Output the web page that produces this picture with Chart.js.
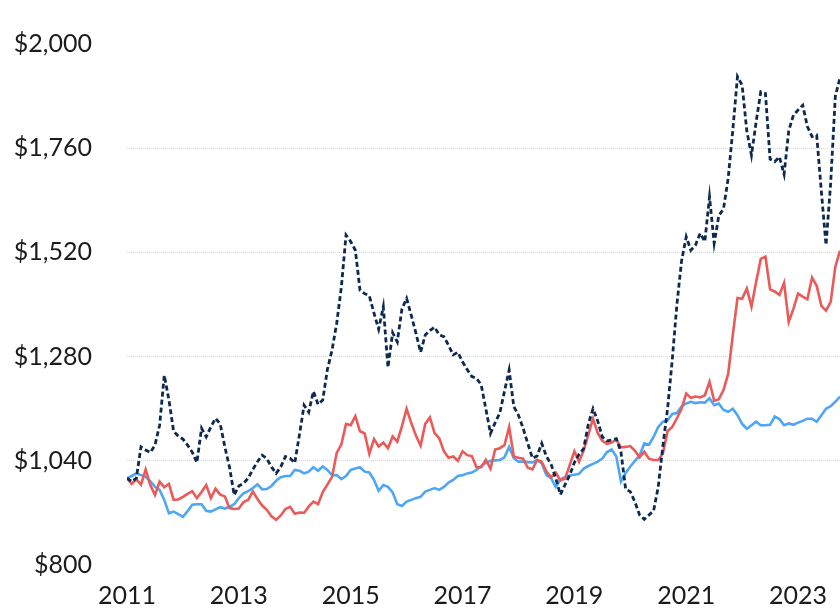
<!DOCTYPE html>
<html>
<head>
<meta charset="utf-8">
<script src="https://cdn.jsdelivr.net/npm/chart.js@4.4.1/dist/chart.umd.min.js"></script>
<style>
  html, body { margin: 0; padding: 0; background: #fff; overflow: hidden; }
  #wrap { width: 840px; height: 609px; }
  canvas { display: block; }
</style>
</head>
<body>
<div id="wrap"><canvas id="growthChart" width="840" height="609"></canvas></div>
<script>
// Monthly values, Jan 2011 .. Oct 2023 (growth of $1,000)
const startYear = 2011;
const yearTicks = [2011, 2013, 2015, 2017, 2019, 2021, 2023];
const valueTicks = [800, 1040, 1280, 1520, 1760, 2000];

const navySeries = [
    1000, 992, 1000, 1072, 1065, 1059, 1076, 1122, 1237, 1180, 1108, 1097,
    1090, 1076, 1060, 1036, 1115, 1095, 1118, 1138, 1125, 1072, 1025, 961,
    982, 988, 1000, 1020, 1038, 1053, 1045, 1026, 1011, 1026, 1050, 1046,
    1035, 1100, 1168, 1152, 1200, 1170, 1180, 1250, 1295, 1357, 1440, 1560,
    1545, 1525, 1433, 1425, 1420, 1380, 1343, 1395, 1255, 1335, 1314, 1390,
    1414, 1375, 1334, 1290, 1330, 1340, 1348, 1330, 1326, 1306, 1284, 1290,
    1268, 1250, 1234, 1230, 1215, 1160, 1103, 1128, 1150, 1200, 1249, 1165,
    1145, 1115, 1080, 1046, 1051, 1080, 1050, 1032, 1000, 962, 985, 1007,
    1036, 1055, 1068, 1125, 1160, 1132, 1095, 1086, 1088, 1091, 1060, 975,
    969, 945, 915, 905, 915, 925, 980, 1075, 1160, 1272, 1400, 1500,
    1556, 1525, 1537, 1564, 1545, 1648, 1541, 1605, 1620, 1690, 1802, 1925,
    1905, 1800, 1744, 1820, 1890, 1886, 1735, 1729, 1740, 1700, 1800, 1836,
    1848, 1859, 1810, 1787, 1790, 1660, 1537, 1680, 1880, 1922
];

const redSeries = [
    1000, 987, 997, 985, 1020, 984, 961, 992, 979, 987, 950, 951,
    957, 964, 970, 954, 968, 984, 954, 976, 962, 958, 931, 929,
    930, 945, 950, 969, 952, 937, 927, 912, 904, 914, 929, 934,
    918, 921, 920, 935, 946, 940, 968, 985, 1003, 1058, 1078, 1125,
    1122, 1143, 1108, 1103, 1056, 1090, 1073, 1082, 1069, 1096, 1084, 1120,
    1160, 1127, 1098, 1075, 1125, 1140, 1104, 1092, 1062, 1047, 1050, 1040,
    1062, 1053, 1051, 1025, 1025, 1042, 1022, 1066, 1069, 1076, 1118, 1050,
    1047, 1045, 1024, 1020, 1042, 1038, 1015, 1002, 1013, 995, 999, 1030,
    1062, 1038, 1064, 1100, 1137, 1104, 1086, 1079, 1082, 1089, 1071, 1072,
    1074, 1063, 1048, 1061, 1045, 1042, 1042, 1057, 1108, 1118, 1138, 1160,
    1195, 1185, 1188, 1186, 1191, 1222, 1178, 1182, 1203, 1240, 1330, 1415,
    1413, 1437, 1395, 1452, 1505, 1510, 1435, 1430, 1422, 1450, 1360, 1390,
    1425, 1418, 1412, 1462, 1443, 1397, 1386, 1406, 1487, 1524
];

const blueSeries = [
    1000, 1005, 1011, 1007, 1003, 993, 980, 973, 950, 919, 923, 917,
    911, 924, 939, 940, 940, 925, 923, 928, 933, 930, 934, 940,
    954, 965, 970, 977, 986, 974, 975, 982, 994, 1002, 1005, 1005,
    1019, 1017, 1011, 1015, 1025, 1017, 1027, 1019, 1007, 1007, 998, 1005,
    1019, 1022, 1025, 1015, 1013, 996, 971, 984, 980, 967, 940, 936,
    946, 950, 954, 957, 969, 973, 977, 973, 980, 990, 996, 1005,
    1007, 1011, 1013, 1019, 1028, 1035, 1040, 1041, 1042, 1048, 1072, 1046,
    1038, 1038, 1037, 1036, 1042, 1034, 1007, 1000, 980, 997, 1003, 1006,
    1008, 1010, 1022, 1028, 1033, 1038, 1045, 1060, 1066, 1050, 992, 1012,
    1027, 1040, 1052, 1080, 1077, 1095, 1118, 1130, 1133, 1148, 1150, 1165,
    1172, 1176, 1173, 1175, 1174, 1184, 1168, 1172, 1157, 1153, 1160, 1145,
    1125, 1114, 1122, 1130, 1122, 1122, 1123, 1142, 1136, 1122, 1126, 1123,
    1128, 1132, 1137, 1137, 1130, 1145, 1160, 1166, 1176, 1188
];

function toPoints(values) {
    return values.map((v, i) => ({ x: i, y: v }));
}

const tickFont = { family: "Lato, 'Open Sans', sans-serif", size: 25 };
const lastIndex = navySeries.length - 1;

new Chart(document.getElementById("growthChart").getContext("2d"), {
    type: "line",
    data: {
        datasets: [
            {
                label: "Portfolio A",
                data: toPoints(navySeries),
                borderColor: "#0c2a50",
                borderWidth: 2.8,
                borderDash: [5, 3],
                pointRadius: 0,
                pointHoverRadius: 0,
                tension: 0,
                fill: false
            },
            {
                label: "Portfolio B",
                data: toPoints(redSeries),
                borderColor: "#e95a58",
                borderWidth: 2.6,
                pointRadius: 0,
                pointHoverRadius: 0,
                tension: 0,
                fill: false
            },
            {
                label: "Portfolio C",
                data: toPoints(blueSeries),
                borderColor: "#4ea6f5",
                borderWidth: 2.6,
                pointRadius: 0,
                pointHoverRadius: 0,
                tension: 0,
                fill: false
            }
        ]
    },
    options: {
        responsive: false,
        animation: false,
        layout: { autoPadding: false, padding: { top: 44, right: 0, bottom: 0, left: 0 } },
        plugins: {
            legend: { display: false },
            tooltip: { enabled: false }
        },
        scales: {
            x: {
                type: "linear",
                min: 0,
                max: lastIndex,
                afterBuildTicks: (scale) => {
                    scale.ticks = yearTicks.map(y => ({ value: (y - startYear) * 12 }));
                },
                afterFit: (scale) => {
                    // fixed axis box so the plot area lines up with the original
                    scale.height = 44;
                    scale.paddingLeft = 0;
                    scale.paddingRight = 0;
                },
                ticks: {
                    color: "#1b1b1b",
                    font: tickFont,
                    padding: 16,
                    maxRotation: 0,
                    autoSkip: false,
                    callback: (v) => String(startYear + v / 12)
                },
                grid: { display: false, drawTicks: false },
                border: { display: false }
            },
            y: {
                min: 800,
                max: 2000,
                afterBuildTicks: (scale) => {
                    scale.ticks = valueTicks.map(v => ({ value: v }));
                },
                afterFit: (scale) => {
                    scale.width = 127;
                    scale.paddingTop = 0;
                    scale.paddingBottom = 0;
                },
                ticks: {
                    color: "#1b1b1b",
                    font: tickFont,
                    padding: 35,
                    callback: (v) => "$" + v.toLocaleString("en-US")
                },
                grid: {
                    drawTicks: false,
                    lineWidth: 1,
                    // no gridline on the top and bottom values
                    color: (ctx) => (ctx.tick && (ctx.tick.value === 800 || ctx.tick.value === 2000)) ? "rgba(0,0,0,0)" : "#d9d9d9"
                },
                border: { display: false, dash: [1, 1] }
            }
        }
    }
});
</script>
</body>
</html>
